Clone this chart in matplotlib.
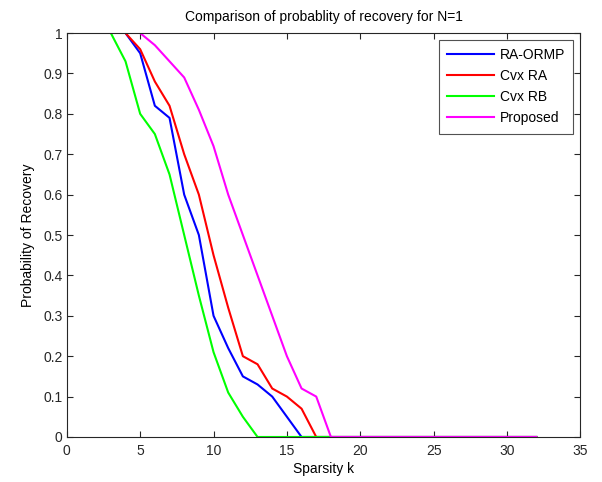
import numpy as np
import matplotlib
matplotlib.use("Agg")
import matplotlib.pyplot as plt

plt.rcParams["font.family"] = ["Liberation Sans", "DejaVu Sans"]
plt.rcParams["font.size"] = 10

# ---- data ----
k_ra_ormp = np.arange(4, 33)
ra_ormp = [1.0, 0.95, 0.82, 0.79, 0.60, 0.50, 0.30, 0.22, 0.15,
           0.13, 0.10, 0.05] + [0.0] * 17
k_cvx_ra = np.arange(4, 33)
cvx_ra = [1.0, 0.96, 0.88, 0.82, 0.70, 0.60, 0.45, 0.32, 0.20,
          0.18, 0.12, 0.10, 0.07] + [0.0] * 16
k_cvx_rb = np.arange(3, 33)
cvx_rb = [1.0, 0.93, 0.80, 0.75, 0.65, 0.50, 0.35, 0.21, 0.11, 0.05] + [0.0] * 20
k_proposed = np.arange(5, 33)
proposed = [1.0, 0.97, 0.93, 0.89, 0.81, 0.72, 0.60, 0.50,
            0.40, 0.30, 0.20, 0.12, 0.10] + [0.0] * 15

series = [("RA-ORMP", k_ra_ormp, ra_ormp, "#0000ff"),
          ("Cvx RA", k_cvx_ra, cvx_ra, "#ff0000"),
          ("Cvx RB", k_cvx_rb, cvx_rb, "#00ff00"),
          ("Proposed", k_proposed, proposed, "#ff00ff")]

fig = plt.figure(figsize=(6.02, 4.82), dpi=100)
ax = fig.add_axes([0.111, 0.0934, 0.853, 0.838])

for name, kk, vals, col in series:
    ax.plot(kk, vals, color=col, lw=1.5, label=name)

ax.set_xlim(0, 35)
ax.set_ylim(0, 1)
ax.set_xticks(range(0, 36, 5))
ax.set_yticks(np.round(np.arange(0, 1.01, 0.1), 1))
ax.set_yticklabels(["0"] + [f"{v:.1f}" for v in np.arange(0.1, 0.95, 0.1)] + ["1"])
ax.tick_params(direction="in", top=True, right=True, length=4, width=0.8,
               colors="#262626", pad=5)
ax.tick_params(axis="y", pad=3)
for s in ax.spines.values():
    s.set_color("#262626")
    s.set_linewidth(0.8)

ax.set_xlabel("Sparsity k", labelpad=3)
ax.set_ylabel("Probability of Recovery", labelpad=6)
ax.set_title("Comparison of probablity of recovery for N=1", fontsize=10, pad=9)

leg = ax.legend(loc="upper right", fancybox=False, edgecolor="#262626",
                handlelength=3.4, borderaxespad=0.5, labelspacing=0.5,
                borderpad=0.6, handletextpad=0.4)
leg.get_frame().set_linewidth(0.8)

fig.savefig("out.png", dpi=100, facecolor="white")
